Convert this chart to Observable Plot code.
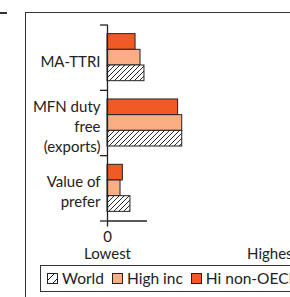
<!DOCTYPE html>
<html><head><meta charset="utf-8">
<script src="https://cdn.jsdelivr.net/npm/d3@7"></script>
<script src="https://cdn.jsdelivr.net/npm/@observablehq/plot@0.6"></script>
<style>
html,body{margin:0;padding:0;background:#fff;overflow:hidden;}
#wrap{position:relative;width:290px;height:297px;overflow:hidden;font-family:Lato,sans-serif;}
.frame{position:absolute;left:25px;top:12px;width:400px;height:400px;border-top:1.5px solid #333;border-left:1.5px solid #333;}
.dash{position:absolute;left:0;top:12px;width:7px;height:1.5px;background:#333;}
#chart{position:absolute;left:0;top:0;}
.legend{position:absolute;left:40px;top:264.5px;height:25px;width:400px;border:1.3px solid #333;display:flex;align-items:center;padding-left:6px;font-size:15.5px;color:#222;}
.item{display:flex;align-items:center;margin-right:8px;white-space:nowrap;}
.sw{width:11px;height:11px;margin-right:4px;display:block;}
</style></head>
<body>
<div id="wrap">
  <div class="frame"></div>
  <div class="dash"></div>
  <div id="chart"></div>
  <div class="legend" id="legend"></div>
</div>
<script>
const groups = ["MA-TTRI", "MFN duty\nfree\n(exports)", "Value of\nprefer"];
const series = ["Hi non-OECD", "High inc", "World"];
const hiNonOECD = [17, 42.8, 9.3];
const highInc = [20, 45.3, 7.9];
const world = [22.4, 45.3, 13.9];
const legendOrder = ["World", "High inc", "Hi non-OECD"];
const axisEnds = ["Lowest", "Highest"];
const xDomain = [0, 100];

const valuesBySeries = {"Hi non-OECD": hiNonOECD, "High inc": highInc, "World": world};
const fills = {"Hi non-OECD": "#f15a24", "High inc": "#fbad84", "World": "url(#hatch)"};
const rows = groups.flatMap((g, gi) => series.map((s, si) => ({g, gi, s, si, v: valuesBySeries[s][gi]})));

const slot = 0.24, pad = 0.14;

const defsMark = () => {
  const ns = "http://www.w3.org/2000/svg";
  const defs = document.createElementNS(ns, "defs");
  defs.innerHTML = `<pattern id="hatch" patternUnits="userSpaceOnUse" width="5" height="5"><rect width="5" height="5" fill="#fff"/><path d="M-1,1 l2,-2 M0,5 l5,-5 M4,6 l2,-2" stroke="#111" stroke-width="0.9"/></pattern>
  <pattern id="hatchS" patternUnits="userSpaceOnUse" width="8" height="8"><rect width="8" height="8" fill="#fff"/><path d="M-1,1 l2,-2 M0,8 l8,-8 M7,9 l2,-2" stroke="#111" stroke-width="1"/></pattern>`;
  return defs;
};

const chart = Plot.plot({
  width: 290,
  height: 262,
  marginLeft: 107,
  marginRight: 18,
  marginTop: 24.5,
  marginBottom: 41.5,
  style: {fontFamily: "Lato, sans-serif", fontSize: "15px", background: "transparent", color: "#222", overflow: "visible"},
  x: {domain: xDomain},
  y: {domain: [0, groups.length], reverse: true, axis: null},
  color: {domain: series, range: series.map(s => fills[s])},
  marks: [
    defsMark,
    Plot.rectX(rows, {
      x1: 0, x2: "v",
      y1: d => d.gi + pad + d.si * slot,
      y2: d => d.gi + pad + (d.si + 1) * slot,
      fill: "s", stroke: "#222", strokeWidth: 1
    }),
    Plot.ruleX([0], {y1: 0, y2: groups.length, stroke: "#222", strokeWidth: 1.3}),
    Plot.ruleY(d3.range(groups.length + 1), {x1: 0, x2: 0, insetLeft: -7, stroke: "#222", strokeWidth: 1.3}),
    Plot.ruleY([groups.length], {x1: 0, insetRight: -40, stroke: "#222", strokeWidth: 1.3}),
    Plot.axisX({ticks: [0], tickSize: 6, tickPadding: 4.5, label: null, fontSize: 15, stroke: "#222", strokeWidth: 1.3}),
    Plot.text(groups, {x: 0, y: (d, i) => i + 0.5, text: d => d, textAnchor: "end", dx: -7, dy: 2.5, fontSize: 15, lineHeight: 1.33, fill: "#222"}),
    Plot.text(axisEnds, {x: (d, i) => xDomain[i], y: groups.length, dy: 33, text: d => d, fontSize: 15, fill: "#222"})
  ]
});
document.getElementById("chart").appendChild(chart);

const legend = document.getElementById("legend");
legendOrder.forEach(s => {
  const it = document.createElement("div");
  it.className = "item";
  const fill = s === "World" ? "url(#hatchS)" : fills[s];
  it.innerHTML = `<svg class="sw" width="11" height="11"><rect x="0.5" y="0.5" width="10" height="10" fill="${fill}" stroke="#222" stroke-width="1"/></svg><span>${s}</span>`;
  legend.appendChild(it);
});
</script>
</body></html>
